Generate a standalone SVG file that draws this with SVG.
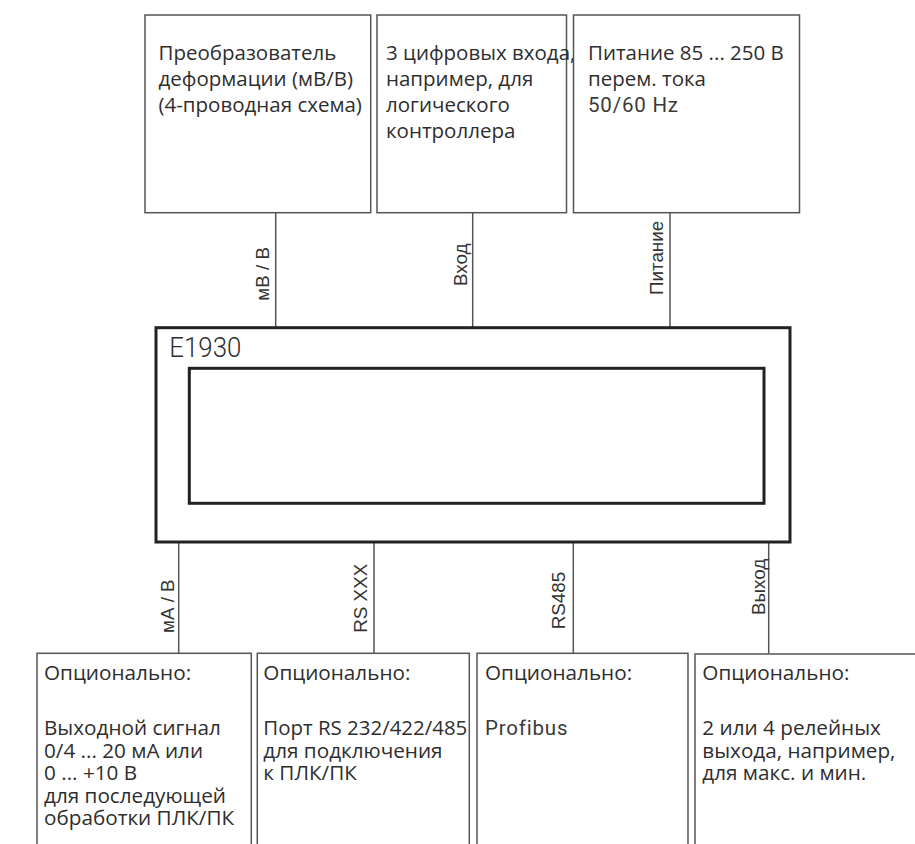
<svg xmlns="http://www.w3.org/2000/svg" width="915" height="844" viewBox="0 0 915 844">
<style>
.box{fill:#fff;stroke:#555;stroke-width:1.5}
.main{fill:#fff;stroke:#222;stroke-width:3}
.conn{stroke:#555;stroke-width:1.5;fill:none}
.t{font-family:"Open Sans","Noto Sans",sans-serif;font-size:20.5px;fill:#2e2e2e}
.b{font-family:"Open Sans","Noto Sans",sans-serif;font-size:20.7px;fill:#2e2e2e}
.d{font-family:Roboto,"Liberation Sans",sans-serif;font-size:20.5px;font-weight:400;fill:#3a3a3a;letter-spacing:0.8px}
.lbl{font-family:"Liberation Sans",Arial,sans-serif;font-size:18.8px;fill:#333}
</style>
<rect width="915" height="844" fill="#fff"/>
<g id="connectors">
<line class="conn" x1="275.7" y1="212.7" x2="275.7" y2="327.7"/>
<line class="conn" x1="472.7" y1="212.7" x2="472.7" y2="327.7"/>
<line class="conn" x1="670" y1="212.7" x2="670" y2="327.7"/>
<line class="conn" x1="178.7" y1="542" x2="178.7" y2="653.5"/>
<line class="conn" x1="374" y1="542" x2="374" y2="653.5"/>
<line class="conn" x1="573.3" y1="542" x2="573.3" y2="653.5"/>
<line class="conn" x1="768.7" y1="542" x2="768.7" y2="653.5"/>
<text class="lbl" transform="translate(269,300.7) rotate(-90)">мВ / В</text>
<text class="lbl" transform="translate(467.3,286) rotate(-90)">Вход</text>
<text class="lbl" transform="translate(662.7,295) rotate(-90)">Питание</text>
<text class="lbl" transform="translate(174,633) rotate(-90)">мА / В</text>
<text class="lbl" transform="translate(366.7,632.7) rotate(-90)">RS XXX</text>
<text class="lbl" transform="translate(565,629.3) rotate(-90)">RS485</text>
<text class="lbl" transform="translate(765,615) rotate(-90)">Выход</text>
</g>
<g id="sensor">
<rect class="box" x="145" y="15" width="225.7" height="197.7"/>
<text class="t" x="158.5" y="59.5">Преобразователь</text>
<text class="t" x="158.5" y="85.5">деформации (мВ/В)</text>
<text class="t" x="158.5" y="111.5">(4-проводная схема)</text>
</g>
<g id="inputs">
<rect class="box" x="377" y="15" width="189.5" height="197.7"/>
<text class="t" x="386" y="59.5">3 цифровых входа,</text>
<text class="t" x="386" y="85.5">например, для</text>
<text class="t" x="386" y="111.5">логического</text>
<text class="t" x="386" y="137.5">контроллера</text>
</g>
<g id="power">
<rect class="box" x="573.5" y="15" width="226" height="197.7"/>
<text class="t" x="588" y="59.5">Питание 85 ... 250 В</text>
<text class="t" x="588" y="85.5">перем. тока</text>
<text class="d" x="588" y="111.5">50/60 Hz</text>
</g>
<g id="e1930">
<rect class="main" x="156" y="327.7" width="634" height="214.3"/>
<rect class="main" x="189.3" y="368.3" width="574.7" height="135"/>
<text font-family="Roboto,'Liberation Sans',sans-serif" font-size="28" font-weight="300" fill="#2e2e2e" x="169.3" y="357" textLength="72" lengthAdjust="spacingAndGlyphs">E1930</text>
</g>
<g id="analog">
<rect class="box" x="37" y="653.3" width="214.3" height="220"/>
<text class="b" x="44" y="679.5">Опционально:</text>
<text class="b" x="44" y="735">Выходной сигнал</text>
<text class="b" x="44" y="757.5">0/4 ... 20 мА или</text>
<text class="b" x="44" y="780">0 ... +10 В</text>
<text class="b" x="44" y="802.5">для последующей</text>
<text class="b" x="44" y="825">обработки ПЛК/ПК</text>
</g>
<g id="rsport">
<rect class="box" x="257.3" y="653.3" width="212" height="220"/>
<text class="b" x="263.3" y="679.5">Опционально:</text>
<text class="b" x="263.3" y="735" textLength="204" lengthAdjust="spacingAndGlyphs">Порт RS 232/422/485</text>
<text class="b" x="263.3" y="757.5">для подключения</text>
<text class="b" x="263.3" y="780">к ПЛК/ПК</text>
</g>
<g id="profibus">
<rect class="box" x="477" y="653.3" width="211" height="220"/>
<text class="b" x="485" y="679.5">Опционально:</text>
<text class="d" x="485" y="735">Profibus</text>
</g>
<g id="relays">
<rect class="box" x="695" y="654" width="230" height="220"/>
<text class="b" x="702.3" y="679.5">Опционально:</text>
<text class="b" x="702.3" y="735">2 или 4 релейных</text>
<text class="b" x="702.3" y="757.5">выхода, например,</text>
<text class="b" x="702.3" y="780">для макс. и мин.</text>
</g>
</svg>
